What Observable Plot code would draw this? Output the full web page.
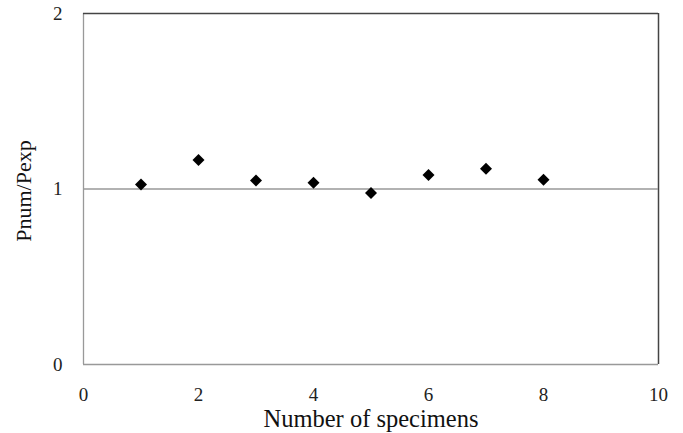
<!DOCTYPE html>
<html>
<head>
<meta charset="utf-8">
<script src="https://cdn.jsdelivr.net/npm/d3@7"></script>
<script src="https://cdn.jsdelivr.net/npm/@observablehq/plot@0.6"></script>
<style>
  html, body { margin: 0; padding: 0; background: #fff; }
  #chart svg { display: block; }
</style>
</head>
<body>
<div id="chart"></div>
<script>
// Ratio of numerical to experimental load for each specimen
const specimens = [1, 2, 3, 4, 5, 6, 7, 8];
const ratios = [1.025, 1.165, 1.049, 1.036, 0.977, 1.080, 1.116, 1.053];

const xTicks = [0, 2, 4, 6, 8, 10];
const yTicks = [0, 1, 2];

const xTitle = "Number of specimens";
const yTitle = "Pnum/Pexp";

const points = specimens.map((s, i) => ({specimen: s, ratio: ratios[i]}));

const serif = "'Liberation Serif', 'Times New Roman', serif";

const chart = Plot.plot({
  width: 683,
  height: 433,
  marginTop: 13,
  marginRight: 25,
  marginBottom: 69,
  marginLeft: 83,
  style: {fontFamily: serif, background: "#fff", color: "#222"},
  x: {domain: [0, 10], ticks: xTicks},
  y: {domain: [0, 2], ticks: yTicks},
  marks: [
    // plot frame: lighter on the left and bottom, darker on top and right
    Plot.ruleX([0], {stroke: "#999", strokeWidth: 1.3}),
    Plot.ruleY([0], {stroke: "#999", strokeWidth: 1.3}),
    Plot.ruleY([2], {stroke: "#444", strokeWidth: 1.5}),
    Plot.ruleX([10], {stroke: "#444", strokeWidth: 1.5}),
    // unity reference line
    Plot.ruleY([1], {stroke: "#999", strokeWidth: 1.3}),
    Plot.axisX({ticks: xTicks, tickFormat: d3.format("d"), tickSize: 0, tickPadding: 23, fontSize: 19, label: null}),
    Plot.axisY({ticks: yTicks, tickFormat: d3.format("d"), tickSize: 0, tickPadding: 21, fontSize: 19, label: null}),
    Plot.dot(points, {x: "specimen", y: "ratio", symbol: "diamond2", r: 5.4, fill: "#000", stroke: "none"}),
    Plot.text([xTitle], {frameAnchor: "bottom", dy: 55, lineAnchor: "middle", fontSize: 24.5, fill: "#111"}),
    Plot.text([yTitle], {frameAnchor: "left", textAnchor: "middle", dx: -60, dy: 2, rotate: -90, lineAnchor: "middle", fontSize: 22, fill: "#111"})
  ]
});

document.getElementById("chart").appendChild(chart);
</script>
</body>
</html>
